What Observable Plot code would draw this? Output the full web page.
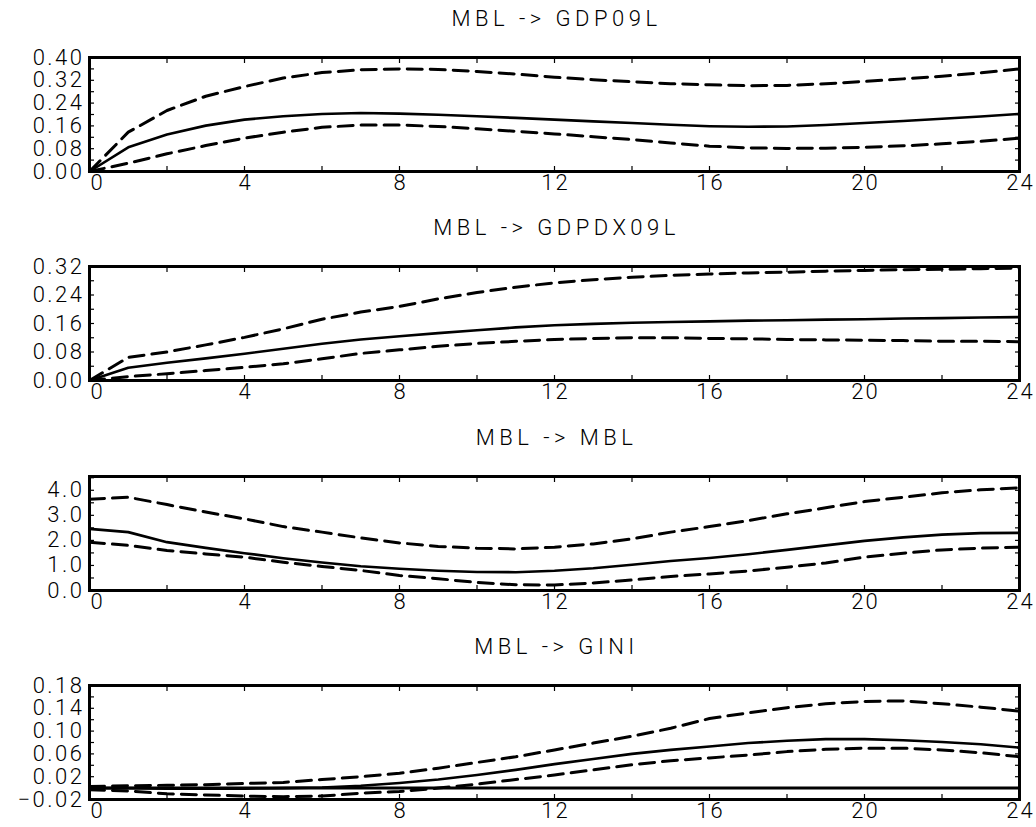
<!DOCTYPE html>
<html><head><meta charset="utf-8">
<script src="https://cdn.jsdelivr.net/npm/d3@7"></script>
<script src="https://cdn.jsdelivr.net/npm/@observablehq/plot@0.6"></script>
<style>
body{margin:0;background:#fff}
#chart svg{display:block}
#chart svg g[aria-label="y-axis tick label"] text{letter-spacing:2.5px}
#chart svg g[aria-label="x-axis tick label"] text{letter-spacing:2px}
#chart svg g[aria-label="text"] text{letter-spacing:4.5px}
</style>
</head><body><div id="chart"></div>
<script>
// horizon steps
const steps = [0,1,2,3,4,5,6,7,8,9,10,11,12,13,14,15,16,17,18,19,20,21,22,23,24];
const xTickLabels = [0,4,8,12,16,20,24];
const xMinorTicks = [0,2,4,6,8,10,12,14,16,18,20,22,24];

const titles = ["MBL -> GDP09L", "MBL -> GDPDX09L", "MBL -> MBL", "MBL -> GINI"];

// Panel 1: MBL -> GDP09L
const gdpMid   = [0,0.085,0.13,0.161,0.182,0.194,0.202,0.205,0.203,0.199,0.194,0.188,0.182,0.176,0.17,0.164,0.159,0.157,0.158,0.163,0.17,0.177,0.185,0.193,0.202];
const gdpUpper = [0,0.138,0.214,0.264,0.298,0.328,0.347,0.357,0.36,0.358,0.351,0.342,0.331,0.322,0.315,0.308,0.304,0.301,0.302,0.308,0.316,0.325,0.334,0.346,0.36];
const gdpLower = [0,0.029,0.062,0.091,0.117,0.138,0.155,0.163,0.163,0.158,0.15,0.141,0.132,0.122,0.112,0.1,0.089,0.083,0.081,0.082,0.085,0.09,0.097,0.106,0.117];
const gdpTicks = [0,0.08,0.16,0.24,0.32,0.40];

// Panel 2: MBL -> GDPDX09L
const dxMid   = [0,0.036,0.05,0.062,0.075,0.089,0.103,0.115,0.124,0.133,0.141,0.149,0.155,0.159,0.162,0.164,0.166,0.168,0.169,0.171,0.172,0.174,0.175,0.177,0.178];
const dxUpper = [0,0.065,0.08,0.1,0.121,0.145,0.172,0.192,0.208,0.229,0.247,0.262,0.274,0.283,0.29,0.295,0.299,0.302,0.304,0.307,0.309,0.311,0.312,0.314,0.315];
const dxLower = [0,0.011,0.019,0.028,0.037,0.047,0.061,0.076,0.086,0.096,0.104,0.11,0.115,0.118,0.12,0.12,0.118,0.117,0.115,0.114,0.113,0.112,0.11,0.11,0.109];
const dxTicks = [0,0.08,0.16,0.24,0.32];

// Panel 3: MBL -> MBL
const mblMid   = [2.46,2.33,1.93,1.7,1.49,1.29,1.12,0.97,0.87,0.79,0.74,0.73,0.79,0.89,1.03,1.18,1.3,1.45,1.62,1.8,1.98,2.12,2.23,2.29,2.3];
const mblUpper = [3.64,3.72,3.43,3.13,2.86,2.55,2.33,2.1,1.9,1.76,1.69,1.66,1.73,1.86,2.06,2.33,2.55,2.79,3.06,3.3,3.55,3.72,3.9,4.02,4.1];
const mblLower = [1.93,1.8,1.6,1.46,1.33,1.13,0.96,0.8,0.6,0.47,0.32,0.23,0.22,0.3,0.42,0.56,0.66,0.78,0.93,1.1,1.33,1.49,1.62,1.69,1.73];
const mblTicks = [0,1,2,3,4];

// Panel 4: MBL -> GINI
const giniMid   = [0,0,-0.001,-0.001,-0.001,0,0.001,0.004,0.009,0.015,0.023,0.032,0.042,0.051,0.06,0.067,0.073,0.079,0.083,0.086,0.086,0.084,0.081,0.077,0.071];
const giniUpper = [0.003,0.004,0.005,0.006,0.008,0.01,0.015,0.02,0.026,0.035,0.045,0.055,0.067,0.079,0.091,0.105,0.122,0.132,0.141,0.148,0.152,0.153,0.148,0.142,0.135];
const giniLower = [-0.003,-0.005,-0.01,-0.012,-0.014,-0.015,-0.014,-0.009,-0.006,0,0.007,0.015,0.023,0.032,0.041,0.048,0.053,0.058,0.064,0.068,0.07,0.07,0.067,0.062,0.055];
const giniTicks = [-0.02,0.02,0.06,0.10,0.14,0.18];

const panels = [
  {title: titles[0], mid: gdpMid, upper: gdpUpper, lower: gdpLower, ticks: gdpTicks, domain: [0, 0.40], fmt: ".2f", minorStep: 0.04, height: 209},
  {title: titles[1], mid: dxMid, upper: dxUpper, lower: dxLower, ticks: dxTicks, domain: [0, 0.32], fmt: ".2f", minorStep: 0.04, height: 210},
  {title: titles[2], mid: mblMid, upper: mblUpper, lower: mblLower, ticks: mblTicks, domain: [0, 4.55], fmt: ".1f", minorStep: 0.5, height: 209},
  {title: titles[3], mid: giniMid, upper: giniUpper, lower: giniLower, ticks: giniTicks, domain: [-0.02, 0.18], fmt: ".2f", minorStep: 0.02, height: 199}
];

const FONT = "Roboto, 'DejaVu Sans', sans-serif";
const FS = 22;

function makePanel(p) {
  const rows = (arr) => steps.map((t, i) => ({t, v: arr[i]}));
  const minor = d3.range(Math.round(p.domain[0] / p.minorStep), Math.floor(p.domain[1] / p.minorStep + 1e-9) + 1).map(k => +(k * p.minorStep).toFixed(4));
  const fmt = d3.format(p.fmt);
  return Plot.plot({
    width: 1036,
    height: p.height,
    marginLeft: 89,
    marginRight: 17,
    marginTop: 57,
    marginBottom: p.height - 57 - 114,
    style: {fontFamily: FONT, fontWeight: 300, fontSize: FS + "px", background: "#fff", color: "#000"},
    x: {domain: [0, 24]},
    y: {domain: p.domain},
    marks: [
      // inward minor ticks
      Plot.axisY(minor, {anchor: "left", tickSize: -5, text: null, label: null, strokeWidth: 1.2}),
      Plot.axisY(minor, {anchor: "right", tickSize: -5, text: null, label: null, strokeWidth: 1.2}),
      Plot.axisX(xMinorTicks, {anchor: "bottom", tickSize: -5, text: null, label: null, strokeWidth: 1.2}),
      Plot.axisX(xMinorTicks, {anchor: "top", tickSize: -5, text: null, label: null, strokeWidth: 1.2}),
      // labels
      Plot.axisY(p.ticks, {anchor: "left", tickSize: 0, tickPadding: 5, tickFormat: fmt, fontSize: FS, fontWeight: 300, label: null}),
      Plot.axisX(xTickLabels.filter(d => d > 0), {anchor: "bottom", tickSize: 0, tickPadding: 3, dx: 1, fontSize: FS, fontWeight: 300, label: null}),
      Plot.axisX([0], {anchor: "bottom", tickSize: 0, tickPadding: 3, dx: 8, fontSize: FS, fontWeight: 300, label: null}),
      Plot.frame({stroke: "#000", strokeWidth: 3}),
      Plot.ruleY([0], {stroke: "#000", strokeWidth: 3}),
      Plot.line(rows(p.upper), {x: "t", y: "v", stroke: "#000", strokeWidth: 3, strokeDasharray: "15,8"}),
      Plot.line(rows(p.lower), {x: "t", y: "v", stroke: "#000", strokeWidth: 3, strokeDasharray: "15,8"}),
      Plot.line(rows(p.mid), {x: "t", y: "v", stroke: "#000", strokeWidth: 2.6}),
      Plot.text([p.title], {frameAnchor: "top", dy: -39, dx: 2, lineAnchor: "middle", fontSize: FS, fontWeight: 300, fill: "#000"})
    ]
  });
}

const root = document.getElementById("chart");
panels.forEach(p => root.appendChild(makePanel(p)));
</script>
</body></html>
